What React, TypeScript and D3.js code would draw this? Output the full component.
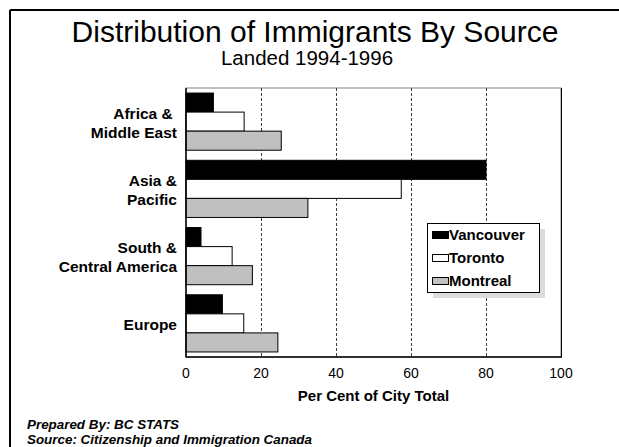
import React from "react";
import * as d3 from "d3";

const categories = ["Africa & |Middle East", "Asia &|Pacific", "South &|Central America", "Europe"];
const seriesNames = ["Vancouver", "Toronto", "Montreal"];
const vancouver = [7.3, 80.0, 4.0, 9.7];
const toronto = [15.5, 57.4, 12.3, 15.4];
const montreal = [25.4, 32.5, 17.7, 24.5];
const xTicks = [0, 20, 40, 60, 80, 100];
const seriesColors = ["#000000", "#ffffff", "#c0c0c0"];

const W = 619;
const H = 447;
const FONT = "Arial, 'Liberation Sans', Helvetica, sans-serif";

export default function App() {
  const left = 186, right = 561, top = 88, bottom = 357;
  const x = d3.scaleLinear().domain([0, 100]).range([left, right]);
  const y = d3
    .scaleBand<string>()
    .domain(categories)
    .range([top, bottom])
    .paddingInner(0.15)
    .paddingOuter(0.075);
  const inner = d3.scaleBand<string>().domain(seriesNames).range([0, y.bandwidth()]);
  const values = [vancouver, toronto, montreal];

  return (
    <svg
      width={W}
      height={H}
      style={{ position: "absolute", left: 0, top: 0, fontFamily: FONT }}
    >
      <rect x={0} y={0} width={W} height={H} fill="#fff" />
      {/* outer frame */}
      <line x1={10} y1={10} x2={W} y2={10} stroke="#000" strokeWidth={2} />
      <line x1={10} y1={10} x2={10} y2={H} stroke="#000" strokeWidth={2} />

      <text x={315} y={42} textAnchor="middle" fontSize={30} fill="#000">
        Distribution of Immigrants By Source
      </text>
      <text x={307} y={65} textAnchor="middle" fontSize={20.5} fill="#000">
        Landed 1994-1996
      </text>

      {/* plot frame */}
      <rect x={left} y={top} width={right - left} height={bottom - top} fill="#fff" stroke="#808080" strokeWidth={1} />
      {xTicks
        .filter((t) => t > 0 && t < 100)
        .map((t) => (
          <line
            key={t}
            x1={Math.round(x(t)) + 0.5}
            x2={Math.round(x(t)) + 0.5}
            y1={top}
            y2={bottom}
            stroke="#404040"
            strokeWidth={1}
            strokeDasharray="3,2"
          />
        ))}
      <line x1={right + 0.5} x2={right + 0.5} y1={top} y2={bottom} stroke="#000" strokeWidth={1} />

      {categories.map((c, ci) =>
        seriesNames.map((s, si) => {
          const v = values[si][ci];
          const y0 = (y(c) as number) + (inner(s) as number);
          return (
            <rect
              key={c + s}
              x={x(0)}
              y={y0}
              width={x(v) - x(0)}
              height={inner.bandwidth()}
              fill={seriesColors[si]}
              stroke="#000"
              strokeWidth={1}
            />
          );
        })
      )}

      <line x1={left} x2={left} y1={top} y2={bottom + 0.5} stroke="#000" strokeWidth={1.5} />
      <line x1={left} x2={right + 1} y1={bottom} y2={bottom} stroke="#000" strokeWidth={1.5} />

      {categories.map((c) => {
        const lines = c.split("|");
        const cy = (y(c) as number) + y.bandwidth() / 2;
        const start = lines.length === 1 ? cy + 7 : cy - 3;
        return (
          <text key={c} textAnchor="end" fontSize={15.5} fontWeight="bold" fill="#000">
            {lines.map((l, i) => (
              <tspan key={i} x={177} y={start + i * 19} style={{ whiteSpace: "pre" }}>
                {l}
              </tspan>
            ))}
          </text>
        );
      })}

      {xTicks.map((t) => (
        <text key={t} x={x(t)} y={378} textAnchor="middle" fontSize={14} fill="#000">
          {t}
        </text>
      ))}
      <text x={(left + right) / 2} y={401} textAnchor="middle" fontSize={15} fontWeight="bold" fill="#000">
        Per Cent of City Total
      </text>

      {/* legend */}
      <rect x={433} y={229} width={112} height={69} fill="#dcdcdc" />
      <rect x={427.5} y={223.5} width={112} height={69} fill="#fff" stroke="#000" strokeWidth={1} />
      {seriesNames.map((s, i) => (
        <g key={s}>
          <rect x={432.5} y={231.5 + i * 23} width={16} height={7} fill={seriesColors[i]} stroke="#000" strokeWidth={1} />
          <text x={449} y={240 + i * 23} fontSize={15} fontWeight="bold" fill="#000">
            {s}
          </text>
        </g>
      ))}

      <text x={27} y={428.5} fontSize={13.4} fontWeight="bold" fontStyle="italic" fill="#000">
        Prepared By: BC STATS
      </text>
      <text x={27} y={444} fontSize={13.4} fontWeight="bold" fontStyle="italic" fill="#000">
        Source: Citizenship and Immigration Canada
      </text>
    </svg>
  );
}
